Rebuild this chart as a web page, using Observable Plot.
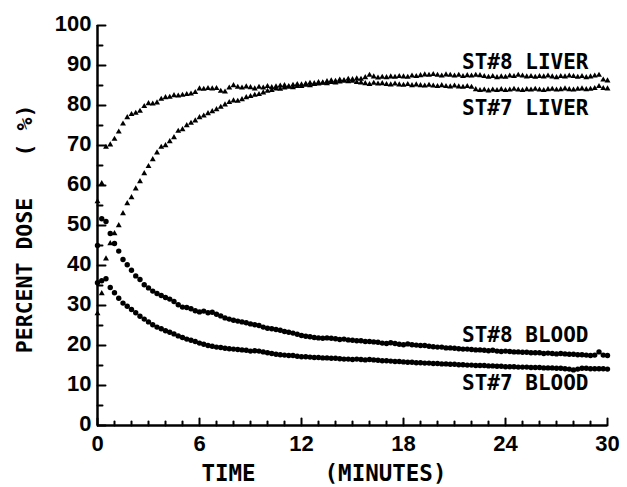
<!DOCTYPE html>
<html><head><meta charset="utf-8">
<script src="https://cdn.jsdelivr.net/npm/d3@7"></script>
<script src="https://cdn.jsdelivr.net/npm/@observablehq/plot@0.6"></script>
<style>html,body{margin:0;padding:0;background:#fff}svg{display:block}</style>
</head><body><div id="chart"></div>
<script>
// sampling times (minutes)
const TIMES = [0,0.25,0.5,0.75,1,1.25,1.5,1.75,2,2.25,2.5,2.75,3,3.25,3.5,3.75,4,4.25,4.5,4.75,5,5.25,5.5,5.75,6,6.25,6.5,6.75,7,7.25,7.5,7.75,8,8.25,8.5,8.75,9,9.25,9.5,9.75,10,10.25,10.5,10.75,11,11.25,11.5,11.75,12,12.25,12.5,12.75,13,13.25,13.5,13.75,14,14.25,14.5,14.75,15,15.25,15.5,15.75,16,16.25,16.5,16.75,17,17.25,17.5,17.75,18,18.25,18.5,18.75,19,19.25,19.5,19.75,20,20.25,20.5,20.75,21,21.25,21.5,21.75,22,22.25,22.5,22.75,23,23.25,23.5,23.75,24,24.25,24.5,24.75,25,25.25,25.5,25.75,26,26.25,26.5,26.75,27,27.25,27.5,27.75,28,28.25,28.5,28.75,29,29.25,29.5,29.75,30];

const ST8_LIVER = [56,60.5,69.6,70.2,71.6,73.4,75.4,77.0,77.8,78.1,78.6,79.8,80.5,80.4,80.7,81.6,82.0,82.1,82.5,82.4,82.6,82.8,82.9,83.3,84.2,84.1,84.3,84.2,84.3,83.6,83.4,84.4,85.0,84.6,84.4,84.7,84.5,84.2,84.6,84.4,84.8,84.5,84.7,84.9,85.0,84.8,85.1,85.3,85.2,85.4,85.6,85.5,85.8,85.7,86.0,86.2,86.1,86.4,86.3,86.6,86.5,86.7,86.6,87.0,87.6,87.2,86.9,87.1,87.0,87.2,87.1,87.3,87.2,87.1,87.4,87.3,87.5,87.7,87.6,87.8,87.6,87.4,87.7,87.6,87.4,87.6,87.3,87.5,87.4,87.6,87.5,87.3,87.1,87.3,87.0,87.2,87.1,87.4,87.3,87.6,87.4,87.2,87.3,87.1,87.3,87.2,87.4,87.2,87.0,87.3,87.2,87.4,87.3,87.1,87.3,87.0,87.2,87.4,87.6,86.4,86.2];

const ST7_LIVER = [28.0,33.0,41.7,45.5,48.0,50.0,53.0,55.5,57.0,59.2,61.0,63.0,64.8,66.5,68.2,69.6,70.0,71.0,72.0,73.6,74.0,75.0,75.6,76.2,77.0,77.4,78.0,78.5,79.0,79.6,80.2,80.8,81.2,81.1,81.5,82.0,82.3,82.6,82.8,83.2,83.6,83.8,84.2,84.1,84.4,84.6,84.5,84.8,84.8,85.1,85.0,85.3,85.4,85.6,85.5,85.8,85.7,85.9,86.1,86.0,86.1,85.8,85.7,85.5,85.3,85.6,85.4,85.5,85.3,85.2,85.4,85.2,85.1,85.3,85.0,85.2,85.0,84.9,85.1,84.9,84.8,85.0,84.8,84.7,84.9,84.7,84.6,84.8,84.6,84.0,83.8,83.9,83.7,83.9,83.8,84.0,83.8,83.9,84.1,83.9,83.8,84.0,83.9,84.1,83.9,83.8,84.0,84.1,83.9,84.0,84.2,84.0,83.9,84.1,84.2,84.0,84.1,84.3,84.8,84.3,84.2];

const ST8_BLOOD = [45.0,51.7,51.0,48.0,45.5,43.6,41.5,40.2,38.8,37.4,36.5,35.2,34.4,33.6,33.0,32.5,32.0,31.6,31.0,30.2,29.6,29.5,29.2,28.7,28.4,28.6,28.2,28.3,27.8,27.4,26.9,26.6,26.3,26.1,25.9,25.7,25.4,25.2,25.0,24.6,24.3,24.2,24.0,23.8,23.5,23.3,23.1,22.8,22.5,22.3,22.2,22.0,21.9,21.8,21.9,21.8,21.7,21.5,21.6,21.4,21.3,21.2,21.2,21.0,21.0,20.9,20.8,20.6,20.5,20.7,20.5,20.3,20.2,20.4,20.2,20.1,20.0,20.0,19.8,19.7,19.6,19.6,19.4,19.4,19.3,19.2,19.1,19.1,19.0,18.9,18.9,18.8,18.7,18.8,18.6,18.5,18.6,18.5,18.4,18.4,18.3,18.3,18.2,18.2,18.2,18.0,18.1,18.0,17.9,18.0,17.9,17.8,17.8,17.7,17.7,17.6,17.5,17.6,18.4,17.6,17.5];

const ST7_BLOOD = [35.7,36.2,36.7,34.5,33.2,31.8,30.6,29.8,29.0,28.2,27.3,26.6,25.9,25.2,24.6,24.2,23.7,23.3,22.9,22.4,22.0,21.6,21.3,21.0,20.6,20.3,20.0,19.8,19.6,19.5,19.3,19.2,19.1,19.0,18.9,18.8,18.6,18.7,18.6,18.4,18.2,18.0,17.8,17.7,17.6,17.5,17.5,17.3,17.2,17.2,17.1,17.0,17.0,16.9,16.9,16.8,16.8,16.7,16.6,16.6,16.5,16.6,16.5,16.4,16.5,16.4,16.3,16.2,16.2,16.1,16.0,16.0,15.9,15.8,15.8,15.7,15.7,15.6,15.6,15.5,15.5,15.4,15.4,15.3,15.3,15.2,15.2,15.1,15.1,15.0,15.0,15.0,14.9,14.9,14.8,14.8,14.7,14.7,14.7,14.6,14.6,14.6,14.5,14.5,14.5,14.4,14.4,14.4,14.3,14.3,14.2,14.1,13.9,14.1,14.3,14.3,14.2,14.2,14.2,14.2,14.1];

const X_MAJOR = [0,6,12,18,24,30];
const X_MINOR = [1,2,3,4,5,7,8,9,10,11,13,14,15,16,17,19,20,21,22,23,25,26,27,28,29];
const X_LABELS = ["0","6","12","18","24","30"];
const Y_MAJOR = [0,10,20,30,40,50,60,70,80,90,100];
const Y_MINOR = [5,15,25,35,45,55,65,75,85,95];
const Y_LABELS = ["0","10","20","30","40","50","60","70","80","90","100"];
const SERIES_NAMES = ["ST#8 LIVER","ST#7 LIVER","ST#8 BLOOD","ST#7 BLOOD"];

const toRows = vals => TIMES.map((t, i) => ({t, v: vals[i]}));
const last = vals => ({t: TIMES[TIMES.length - 1], v: vals[vals.length - 1]});

const MONO = "'DejaVu Sans Mono', 'Liberation Mono', monospace";
const SANS = "'Liberation Sans', Arial, sans-serif";
const tickShape = {draw(ctx, l) { ctx.moveTo(0, 0); ctx.lineTo(0, -l); }};

const seriesLabel = (name, vals, dy) =>
  Plot.text([last(vals)], {x: "t", y: "v", text: () => name, textAnchor: "end", dx: -19, dy,
    fontFamily: MONO, fontWeight: "bold", fontSize: 21, fill: "black"});

const chart = Plot.plot({
  width: 627, height: 487,
  marginLeft: 97, marginRight: 20, marginTop: 25, marginBottom: 62,
  style: {background: "white", color: "black"},
  x: {domain: [0, 30], axis: null},
  y: {domain: [0, 100], axis: null},
  marks: [
    Plot.ruleX([0], {stroke: "black", strokeWidth: 2.5}),
    Plot.ruleY([0], {stroke: "black", strokeWidth: 2.5}),
    Plot.vector(X_MAJOR, {x: d => d, y: () => 0, length: 7, rotate: 0, anchor: "start", shape: tickShape, stroke: "black", strokeWidth: 2}),
    Plot.vector(X_MINOR, {x: d => d, y: () => 0, length: 4, rotate: 0, anchor: "start", shape: tickShape, stroke: "black", strokeWidth: 2}),
    Plot.vector(Y_MAJOR, {x: () => 0, y: d => d, length: 8, rotate: 90, anchor: "start", shape: tickShape, stroke: "black", strokeWidth: 2}),
    Plot.vector(Y_MINOR, {x: () => 0, y: d => d, length: 5, rotate: 90, anchor: "start", shape: tickShape, stroke: "black", strokeWidth: 2}),
    Plot.text(X_MAJOR, {x: d => d, y: () => 0, text: (d, i) => X_LABELS[i], dy: 18, fontFamily: SANS, fontWeight: "bold", fontSize: 22, fill: "black"}),
    Plot.text(Y_MAJOR, {x: () => 0, y: d => d, text: (d, i) => Y_LABELS[i], dx: -6, dy: -2, textAnchor: "end", fontFamily: SANS, fontWeight: "bold", fontSize: 22, fill: "black"}),
    Plot.text(["TIME"], {frameAnchor: "bottom", lineAnchor: "middle", textAnchor: "middle", dx: -124, dy: 48, fontFamily: MONO, fontWeight: "bold", fontSize: 22.5, fill: "black"}),
    Plot.text(["(MINUTES)"], {frameAnchor: "bottom", lineAnchor: "middle", textAnchor: "middle", dx: 33, dy: 48, fontFamily: MONO, fontWeight: "bold", fontSize: 22.5, fill: "black"}),
    Plot.text(["PERCENT DOSE"], {frameAnchor: "left", lineAnchor: "middle", textAnchor: "middle", rotate: -90, dx: -72, dy: 50, fontFamily: MONO, fontWeight: "bold", fontSize: 21.5, fill: "black"}),
    Plot.text(["( %)"], {frameAnchor: "left", lineAnchor: "middle", textAnchor: "middle", rotate: -90, dx: -72, dy: -95, fontFamily: MONO, fontWeight: "bold", fontSize: 21.5, fill: "black"}),
    Plot.dot(toRows(ST8_BLOOD), {x: "t", y: "v", r: 2.7, fill: "black"}),
    Plot.dot(toRows(ST7_BLOOD), {x: "t", y: "v", r: 2.7, fill: "black"}),
    Plot.dot(toRows(ST8_LIVER), {x: "t", y: "v", symbol: "triangle", r: 2.2, fill: "black"}),
    Plot.dot(toRows(ST7_LIVER), {x: "t", y: "v", symbol: "triangle", r: 2.2, fill: "black"}),
    seriesLabel(SERIES_NAMES[0], ST8_LIVER, -18),
    seriesLabel(SERIES_NAMES[1], ST7_LIVER, 20),
    seriesLabel(SERIES_NAMES[2], ST8_BLOOD, -20),
    seriesLabel(SERIES_NAMES[3], ST7_BLOOD, 14.5)
  ]
});
document.getElementById("chart").appendChild(chart);
</script></body></html>
